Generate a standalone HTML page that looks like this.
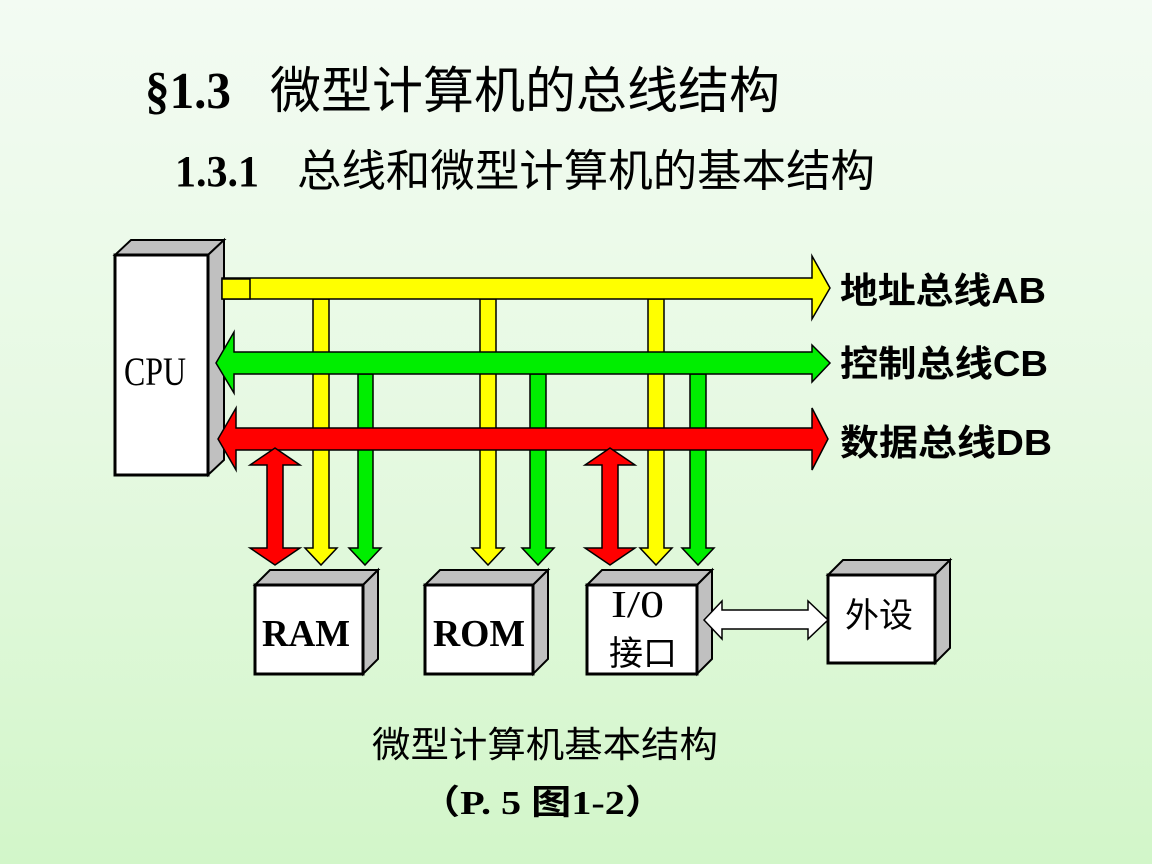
<!DOCTYPE html>
<html><head><meta charset="utf-8"><style>
html,body{margin:0;padding:0;}
body{width:1152px;height:864px;overflow:hidden;background:linear-gradient(180deg,#f3fbf3 0%,#e6f9e2 50%,#d2f6c9 100%);}
svg{display:block}
</style></head><body>
<svg width="1152" height="864" viewBox="0 0 1152 864" xmlns="http://www.w3.org/2000/svg" font-family="'Liberation Serif','Noto Sans CJK SC',serif">
<text x="145" y="108" font-size="52" font-weight="bold" textLength="86" lengthAdjust="spacingAndGlyphs">§1.3</text>
<text x="270" y="108" font-size="50" font-family="'Noto Sans CJK SC',sans-serif" textLength="510" lengthAdjust="spacingAndGlyphs">微型计算机的总线结构</text>
<text x="175" y="186" font-size="44" font-weight="bold" textLength="84" lengthAdjust="spacingAndGlyphs">1.3.1</text>
<text x="297" y="186" font-size="44" font-family="'Noto Sans CJK SC',sans-serif" textLength="578" lengthAdjust="spacingAndGlyphs">总线和微型计算机的基本结构</text>

<g stroke="#000" stroke-width="2">
<polygon points="115,255 131,240 224,240 208,255" fill="#c0c0c0"/>
<polygon points="208,255 224,240 224,460 208,475" fill="#c0c0c0"/>
<rect x="115" y="255" width="93" height="220" fill="#fff" stroke-width="3"/>

<polygon points="313,299 329,299 329,548 337,548 321,565 305,548 313,548" fill="#ffff00" stroke-width="1.5"/>
<polygon points="480,299 496,299 496,548 504,548 488,565 472,548 480,548" fill="#ffff00" stroke-width="1.5"/>
<polygon points="648,299 664,299 664,548 672,548 656,565 640,548 648,548" fill="#ffff00" stroke-width="1.5"/>
<polygon points="222,278 812,278 812,256 830,288 812,319 812,299 222,299" fill="#ffff00" stroke-width="1.5"/>
<rect x="222" y="279" width="28" height="20" fill="#ffff00" stroke-width="1.5"/>

<polygon points="358,374 373,374 373,548 381,548 365,565 349,548 358,548" fill="#00ee00" stroke-width="1.5"/>
<polygon points="530,374 546,374 546,548 554,548 538,565 522,548 530,548" fill="#00ee00" stroke-width="1.5"/>
<polygon points="690,374 706,374 706,548 714,548 698,565 682,548 690,548" fill="#00ee00" stroke-width="1.5"/>
<polygon points="216,363 234,332 234,352 812,352 812,345 830,363 812,382 812,374 234,374 234,393" fill="#00ee00" stroke-width="1.5"/>

<polygon points="218,439 236,408 236,428 812,428 812,408 828,439 812,470 812,450 236,450 236,470" fill="#ff0000" stroke-width="1.5"/>
<polygon points="275,448 300,465 283,465 283,548 300,548 275,565 250,548 267,548 267,465 250,465" fill="#ff0000" stroke-width="1.5"/>
<polygon points="610,448 635,465 618,465 618,548 635,548 610,565 585,548 602,548 602,465 585,465" fill="#ff0000" stroke-width="1.5"/>

<polygon points="255,585 270,570 378,570 363,585" fill="#c0c0c0"/>
<polygon points="363,585 378,570 378,659 363,674" fill="#c0c0c0"/>
<rect x="255" y="585" width="108" height="89" fill="#fff" stroke-width="3"/>

<polygon points="425,585 440,570 548,570 533,585" fill="#c0c0c0"/>
<polygon points="533,585 548,570 548,659 533,674" fill="#c0c0c0"/>
<rect x="425" y="585" width="108" height="89" fill="#fff" stroke-width="3"/>

<polygon points="587,585 602,570 712,570 697,585" fill="#c0c0c0"/>
<polygon points="697,585 712,570 712,659 697,674" fill="#c0c0c0"/>
<rect x="587" y="585" width="110" height="89" fill="#fff" stroke-width="3"/>

<polygon points="828,575 843,560 950,560 935,575" fill="#c0c0c0"/>
<polygon points="935,575 950,560 950,648 935,663" fill="#c0c0c0"/>
<rect x="828" y="575" width="107" height="88" fill="#fff" stroke-width="3"/>

<polygon points="704,620 722,601 722,610 808,610 808,601 828,620 808,639 808,629 722,629 722,639" fill="#fff" stroke-width="1.5"/>
</g>

<text x="124" y="385" font-size="40" textLength="62" lengthAdjust="spacingAndGlyphs">CPU</text>
<text x="262" y="646" font-size="38" font-weight="bold" textLength="88" lengthAdjust="spacingAndGlyphs">RAM</text>
<text x="433" y="646" font-size="38" font-weight="bold" textLength="92" lengthAdjust="spacingAndGlyphs">ROM</text>
<text x="611" y="617" font-size="38" textLength="53" lengthAdjust="spacingAndGlyphs">I/0</text>
<text x="609" y="665" font-size="34" font-family="'Noto Sans CJK SC',sans-serif">接口</text>
<text x="845" y="627" font-size="34" font-family="'Noto Sans CJK SC',sans-serif">外设</text>

<g font-size="36" font-weight="bold" font-family="'Liberation Sans','Noto Sans CJK SC',sans-serif">
<text x="840" y="303" textLength="206" lengthAdjust="spacingAndGlyphs">地址总线AB</text>
<text x="840" y="376" textLength="208" lengthAdjust="spacingAndGlyphs">控制总线CB</text>
<text x="840" y="455" textLength="212" lengthAdjust="spacingAndGlyphs">数据总线DB</text>
</g>

<text x="372" y="757" font-size="36" font-family="'Noto Sans CJK SC',sans-serif" textLength="346" lengthAdjust="spacingAndGlyphs">微型计算机基本结构</text>
<text x="420" y="814" font-size="34" font-weight="bold" font-family="'Liberation Serif','Noto Sans CJK SC',serif" textLength="245" lengthAdjust="spacingAndGlyphs">（P. 5  图1-2）</text>
</svg>
</body></html>
